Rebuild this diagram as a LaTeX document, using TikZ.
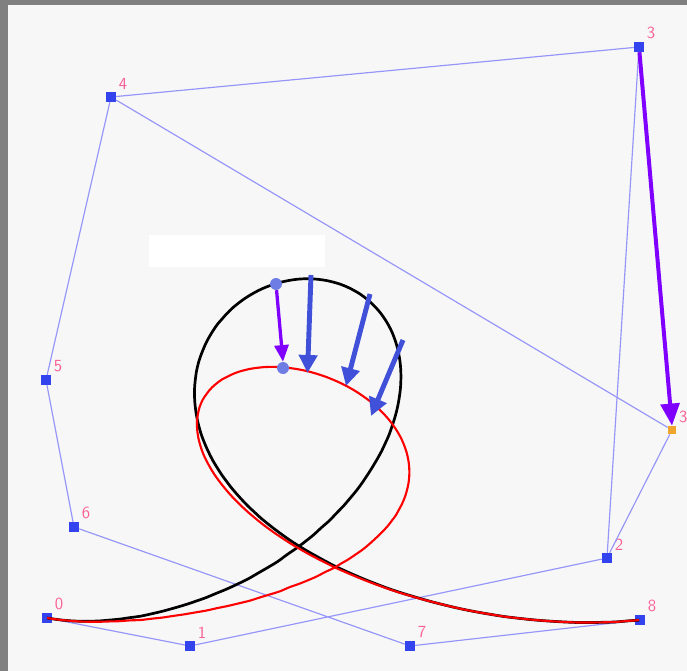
\documentclass[tikz,border=0pt]{standalone}
\usepackage{tikz}
\usetikzlibrary{arrows.meta}
\definecolor{ctrlblue}{RGB}{51,68,238}
\definecolor{polyblue}{RGB}{150,150,250}
\definecolor{labelpink}{RGB}{250,95,150}
\definecolor{movepurple}{RGB}{128,0,255}
\definecolor{shiftblue}{RGB}{64,80,216}
\definecolor{dotblue}{RGB}{110,125,228}
\definecolor{newpt}{RGB}{240,165,45}
\definecolor{bggray}{RGB}{247,247,247}
\definecolor{framegray}{RGB}{128,128,128}
\tikzset{
  ctrl/.style={rectangle,fill=ctrlblue,minimum size=0.3cm,inner sep=0pt},
  ctrlnew/.style={rectangle,fill=newpt,minimum size=0.25cm,inner sep=0pt},
  ptlabel/.style={font=\sffamily\fontsize{14.5}{14.5}\selectfont,
    text=labelpink,inner sep=1pt,label distance=1.5pt},
  poly/.style={draw=polyblue,line width=1pt},
  dot/.style={circle,fill=dotblue,minimum size=0.36cm,inner sep=0pt},
  oldcurve/.style={draw=black,line width=2.3pt},
  newcurve/.style={draw=red,line width=1.8pt},
  move/.style={-{Triangle[length=0.66cm,width=0.56cm]},draw=movepurple,
    fill=movepurple,line width=3.4pt},
  smallmove/.style={-{Triangle[length=0.5cm,width=0.42cm]},draw=movepurple,
    fill=movepurple,line width=2.8pt},
  shiftarrow/.style={-{Triangle[length=0.54cm,width=0.54cm]},draw=shiftblue,
    fill=shiftblue,line width=4.2pt}
}

\begin{document}
\begin{tikzpicture}[x=0.03cm,y=-0.03cm,
  declare function={
    Ba(\t)=(1-\t)^8;
    Bb(\t)=8*\t*(1-\t)^7;
    Bc(\t)=28*\t^2*(1-\t)^6;
    Bd(\t)=56*\t^3*(1-\t)^5;
    Be(\t)=70*\t^4*(1-\t)^4;
    Bf(\t)=56*\t^5*(1-\t)^3;
    Bg(\t)=28*\t^6*(1-\t)^2;
    Bh(\t)=8*\t^7*(1-\t);
    Bi(\t)=\t^8;
  }]
  % frame and background
  \fill[framegray] (0,0) rectangle (687,671);
  \fill[bggray] (8,5) rectangle (687,671);
  \useasboundingbox (0,0) rectangle (687,671);
  \clip (0,0) rectangle (687,671);

  % control points
  \node[ctrl,label={[ptlabel]45:0}] (p0) at (47,618) {};
  \node[ctrl,label={[ptlabel]45:1}] (p1) at (190,646) {};
  \node[ctrl,label={[ptlabel]45:2}] (p2) at (607,558) {};
  \node[ctrl,label={[ptlabel]45:3}] (p3) at (639,47) {};
  \node[ctrl,label={[ptlabel]45:4}] (p4) at (111,97) {};
  \node[ctrl,label={[ptlabel]45:5}] (p5) at (46,380) {};
  \node[ctrl,label={[ptlabel]45:6}] (p6) at (74,527) {};
  \node[ctrl,label={[ptlabel]45:7}] (p7) at (410,646) {};
  \node[ctrl,label={[ptlabel]45:8}] (p8) at (640,620) {};
  \node[ctrlnew,label={[ptlabel]45:3}] (p3n) at (672,430) {};

  % control polygons
  \draw[poly] (p0) -- (p1) -- (p2) -- (p3) -- (p4) -- (p5) -- (p6) -- (p7)
    -- (p8);
  \draw[poly] (p2) -- (p3n) -- (p4);

  % curves
  \draw[oldcurve] plot[domain=0:1,samples=160,smooth,variable=\u]
    ({47*Ba(\u)+190*Bb(\u)+607*Bc(\u)+639*Bd(\u)+111*Be(\u)+46*Bf(\u)
      +74*Bg(\u)+410*Bh(\u)+640*Bi(\u)},
     {618*Ba(\u)+646*Bb(\u)+558*Bc(\u)+47*Bd(\u)+97*Be(\u)+380*Bf(\u)
      +527*Bg(\u)+646*Bh(\u)+620*Bi(\u)});
  \draw[newcurve] plot[domain=0:1,samples=160,smooth,variable=\u]
    ({47*Ba(\u)+190*Bb(\u)+607*Bc(\u)+672*Bd(\u)+111*Be(\u)+46*Bf(\u)
      +74*Bg(\u)+410*Bh(\u)+640*Bi(\u)},
     {618*Ba(\u)+646*Bb(\u)+558*Bc(\u)+430*Bd(\u)+97*Be(\u)+380*Bf(\u)
      +527*Bg(\u)+646*Bh(\u)+620*Bi(\u)});

  % covered caption
  \node[fill=white,minimum width=5.28cm,minimum height=0.96cm,inner sep=0pt]
    (caption) at (237,251) {};

  % moved point
  \draw[move] (p3) -- (p3n.north);

  % curve point at t=1/2
  \node[dot] (q0) at (276,284) {};
  \node[dot] (q1) at (283,368) {};
  \draw[smallmove] (q0) -- (q1.north);

  % shift arrows
  \coordinate (s1) at (311,275);
  \coordinate (e1) at (307.5,373);
  \coordinate (s2) at (370,294);
  \coordinate (e2) at (346,386);
  \coordinate (s3) at (403,340);
  \coordinate (e3) at (371,416);
  \draw[shiftarrow] (s1) -- (e1);
  \draw[shiftarrow] (s2) -- (e2);
  \draw[shiftarrow] (s3) -- (e3);
\end{tikzpicture}
\end{document}
